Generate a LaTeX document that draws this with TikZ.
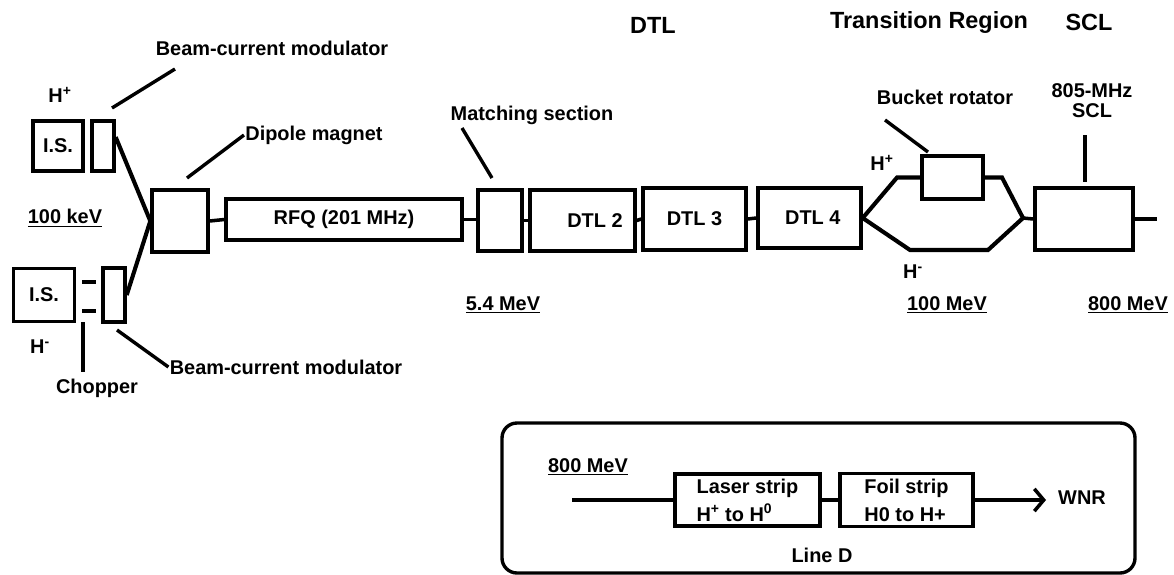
\documentclass[tikz,border=0pt]{standalone}
\usepackage{fontspec}
\setmainfont{Liberation Sans}
\usepackage{tikz}
\usetikzlibrary{arrows.meta,positioning,calc}
\tikzset{
  unit/.style={draw, line width=2.9pt, inner sep=0pt, font=\bfseries\fontsize{17}{19}\selectfont},
  stripbox/.style={unit, align=left, font=\bfseries\fontsize{17}{24}\selectfont},
  beam/.style={line width=3pt},
  split/.style={line width=3.5pt, line join=miter},
  lead/.style={line width=2.9pt},
  lbl/.style={inner sep=1pt, font=\bfseries\fontsize{17}{19}\selectfont},
  head/.style={inner sep=1pt, font=\bfseries\fontsize{20}{23}\selectfont},
  frame/.style={draw, line width=2.9pt, rounded corners=0.45cm}
}

\begin{document}
\begin{tikzpicture}[x=0.03cm, y=-0.03cm]
  \useasboundingbox (0,0) rectangle (1174,574);

  \node[head] (dtlh) at (653,25) {DTL};
  \node[head] (trh) at (929,22) {Transition Region};
  \node[head] (sclh) at (1089,22) {SCL};

  \node[unit, minimum width=1.5cm, minimum height=1.5cm] (isp) at (58,146) {I.S.};
  \node[unit, minimum width=0.66cm, minimum height=1.5cm] (modp) at (103,146) {};
  \node[unit, minimum width=1.83cm, minimum height=1.59cm] (ism) at (44,295) {I.S.};
  \node[unit, minimum width=0.66cm, minimum height=1.62cm] (modm) at (114,295) {};
  \node[unit, minimum width=1.68cm, minimum height=1.86cm] (dip) at (180,221) {};
  \node[unit, minimum width=7.08cm, minimum height=1.23cm] (rfq) at (344,219.5) {RFQ (201 MHz)};
  \node[unit, minimum width=1.32cm, minimum height=1.83cm] (match) at (500,220.5) {};
  \node[unit, minimum width=3.15cm, minimum height=1.83cm] (dtl2) at (582.5,220.5) {\hspace*{0.75cm}DTL 2};
  \node[unit, minimum width=3.09cm, minimum height=1.86cm] (dtl3) at (694.5,219) {DTL 3};
  \node[unit, minimum width=3.09cm, minimum height=1.8cm] (dtl4) at (809.5,218) {\hspace*{0.2cm}DTL 4};
  \node[unit, minimum width=1.83cm, minimum height=1.29cm] (rot) at (952.5,177.5) {};
  \node[unit, minimum width=2.94cm, minimum height=1.86cm] (scl) at (1084,219) {};

  \node[lbl] (bcmp) at (272,48) {Beam-current modulator};
  \node[lbl] (hp) at (60,95) {H\textsuperscript{+}};
  \node[lbl] (dipl) at (314,135) {Dipole magnet};
  \node[lbl] (kev) at (65,218) {\underline{100 keV}};
  \node[lbl] (hm) at (40,347) {H\textsuperscript{-}};
  \node[lbl] (chopl) at (97,388) {Chopper};
  \node[lbl] (bcmm) at (286,367) {Beam-current modulator};
  \node[lbl] (matchl) at (532,115) {Matching section};
  \node[lbl] (mev5) at (503,305) {\underline{5.4 MeV}};
  \node[lbl] (rotl) at (945,97) {Bucket rotator};
  \node[lbl] (rothp) at (882,163) {H\textsuperscript{+}};
  \node[lbl] (rothm) at (913,272) {H\textsuperscript{-}};
  \node[lbl, align=center, font=\bfseries\fontsize{17}{17}\selectfont] (scll) at (1092,101) {805-MHz\\SCL};
  \node[lbl] (mev100) at (947,305) {\underline{100 MeV}};
  \node[lbl] (mev800) at (1128,305) {\underline{800 MeV}};

  \coordinate (bcmpa) at (112,108);
  \coordinate (bcmpb) at (175,69);
  \coordinate (dipa) at (187,178);
  \coordinate (bcmma) at (117,330);
  \coordinate (chopa) at (83,322);
  \coordinate (chopb) at (83,372);
  \coordinate (matcha) at (462,128);
  \coordinate (matchb) at (492,178);
  \coordinate (rota) at (885,120);
  \coordinate (rotb) at (928,152);
  \coordinate (scla) at (1085,135);
  \coordinate (sclb) at (1085,182);
  \coordinate (up1) at (897,177.5);
  \coordinate (up2) at (1002,177.5);
  \coordinate (lo1) at (910,250);
  \coordinate (lo2) at (988,250);
  \coordinate (merge) at (1023,218);
  \coordinate (sclout) at (1157,219);

  \draw[lead] (bcmpa) -- (bcmpb);
  \draw[lead] (dipa) -- (dipl.west);
  \draw[lead] (bcmma) -- (bcmm.west);
  \draw[lead] (chopa) -- (chopb);
  \draw[lead] (matcha) -- (matchb);
  \draw[lead] (rota) -- (rotb);
  \draw[lead] (scla) -- (sclb);

  \draw[beam] (82,282) -- (96,282);
  \draw[beam] (82,311) -- (96,311);

  \draw[split] (modp.35) -- (dip.west);
  \draw[split] (modm.east) -- (dip.west);
  \draw[beam] (dip.east) -- (rfq.west);
  \draw[beam] (rfq.east) -- (match.west |- rfq.east);
  \draw[beam] (match.east) -- (dtl2.west);
  \draw[beam] (dtl2.east) -- (dtl3.west);
  \draw[beam] (dtl3.east) -- (dtl4.west);
  \draw[split] (dtl4.east) -- (up1) -- (rot.west);
  \draw[split] (rot.east) -- (up2) -- (merge);
  \draw[split] (dtl4.east) -- (lo1) -- (lo2) -- (merge);
  \draw[beam] (merge) -- (scl.west);
  \draw[beam] (scl.east) -- (sclout);

  \draw[frame] (502,423) rectangle (1135,573);
  \node[lbl] (mev800d) at (588,467) {\underline{800 MeV}};
  \node[stripbox, minimum width=4.35cm, minimum height=1.56cm] (laser) at (747.5,500) {Laser strip\\H\textsuperscript{+} to H\textsuperscript{0}};
  \node[stripbox, minimum width=3.99cm, minimum height=1.59cm] (foil) at (906.5,500) {Foil strip\\H0 to H+};
  \node[lbl] (wnr) at (1082,498) {WNR};
  \node[lbl] (lined) at (822,555) {Line D};
  \coordinate (dinp) at (572,500);
  \coordinate (dout) at (1046,500);
  \draw[beam] (dinp) -- (laser.west);
  \draw[beam] (laser.east) -- (foil.west);
  \draw[beam, -{Straight Barb[length=8pt, width=19pt]}] (foil.east) -- (dout);
\end{tikzpicture}
\end{document}
